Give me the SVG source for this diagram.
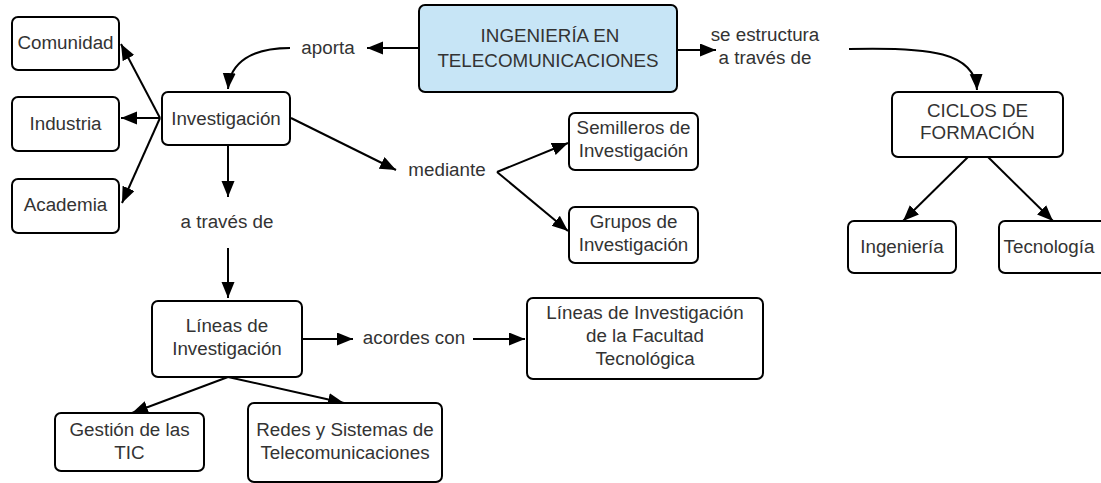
<svg xmlns="http://www.w3.org/2000/svg" width="1101" height="483" viewBox="0 0 1101 483">
<style>
.box{fill:#fff;stroke:#000;stroke-width:2}
.main{fill:#c7e5f6;stroke:#000;stroke-width:2}
text{font-family:"Liberation Sans",Arial,sans-serif;font-size:18.8px;fill:#333;text-anchor:middle}
.c{fill:none;stroke:#000;stroke-width:2}
</style>
<defs>
<marker id="ah" markerUnits="userSpaceOnUse" markerWidth="18" markerHeight="14" refX="16" refY="6.5" orient="auto" viewBox="0 0 18 14">
<path d="M0,0 L16,6.5 L0,13 z" fill="#000"/>
</marker>
</defs>
<rect width="1101" height="483" fill="#fff"/>
<g id="connectors">
<line class="c" x1="418" y1="48" x2="367" y2="48" marker-end="url(#ah)"/>
<path class="c" d="M290,48 C252,48 230,62 228,89" marker-end="url(#ah)"/>
<line class="c" x1="677" y1="50" x2="716" y2="50" marker-end="url(#ah)"/>
<path class="c" d="M849,49 C930,47 975,52 977,90" marker-end="url(#ah)"/>
<line class="c" x1="160" y1="118" x2="121" y2="44" marker-end="url(#ah)"/>
<line class="c" x1="160" y1="118" x2="121" y2="118" marker-end="url(#ah)"/>
<line class="c" x1="160" y1="118" x2="122" y2="203" marker-end="url(#ah)"/>
<line class="c" x1="228" y1="146" x2="228" y2="197" marker-end="url(#ah)"/>
<line class="c" x1="228" y1="248" x2="228" y2="298" marker-end="url(#ah)"/>
<line class="c" x1="291" y1="118" x2="396" y2="170" marker-end="url(#ah)"/>
<line class="c" x1="497" y1="172" x2="568" y2="143" marker-end="url(#ah)"/>
<line class="c" x1="497" y1="172" x2="568" y2="231" marker-end="url(#ah)"/>
<line class="c" x1="302" y1="339" x2="353" y2="339" marker-end="url(#ah)"/>
<line class="c" x1="473" y1="339" x2="525" y2="339" marker-end="url(#ah)"/>
<line class="c" x1="228" y1="377" x2="132" y2="413" marker-end="url(#ah)"/>
<line class="c" x1="228" y1="377" x2="344" y2="403" marker-end="url(#ah)"/>
<line class="c" x1="968" y1="157" x2="903" y2="221" marker-end="url(#ah)"/>
<line class="c" x1="988" y1="157" x2="1053" y2="221" marker-end="url(#ah)"/>
</g>
<g id="labels">
<text x="328" y="54">aporta</text>
<text x="765" y="41">se estructura</text>
<text x="765" y="64">a través de</text>
<text x="447" y="176">mediante</text>
<text x="227" y="228">a través de</text>
<text x="414" y="344">acordes con</text>
</g>
<g id="n-main"><rect class="main" x="419" y="5" width="258" height="87" rx="6"/><text x="550" y="42">INGENIERÍA EN</text><text x="548" y="67">TELECOMUNICACIONES</text></g>
<g id="n-comunidad"><rect class="box" x="12" y="17" width="107" height="53" rx="6"/><text x="65.5" y="49">Comunidad</text></g>
<g id="n-industria"><rect class="box" x="12" y="97" width="107" height="54" rx="6"/><text x="65.5" y="130">Industria</text></g>
<g id="n-academia"><rect class="box" x="12" y="179" width="107" height="54" rx="6"/><text x="65.5" y="211">Academia</text></g>
<g id="n-investigacion"><rect class="box" x="162" y="92" width="128" height="53" rx="6"/><text x="226" y="125">Investigación</text></g>
<g id="n-semilleros"><rect class="box" x="569" y="113" width="129" height="57" rx="6"/><text x="633.5" y="134">Semilleros de</text><text x="633.5" y="157">Investigación</text></g>
<g id="n-grupos"><rect class="box" x="569" y="207" width="129" height="56" rx="6"/><text x="633.5" y="228">Grupos de</text><text x="633.5" y="251">Investigación</text></g>
<g id="n-ciclos"><rect class="box" x="892" y="92" width="171" height="65" rx="6"/><text x="977.5" y="117">CICLOS DE</text><text x="977.5" y="139">FORMACIÓN</text></g>
<g id="n-ingenieria"><rect class="box" x="848" y="221" width="108" height="52" rx="6"/><text x="902" y="253">Ingeniería</text></g>
<g id="n-tecnologia"><rect class="box" x="999" y="221" width="108" height="52" rx="6"/><text x="1049" y="253">Tecnología</text></g>
<g id="n-lineas"><rect class="box" x="152" y="301" width="150" height="76" rx="6"/><text x="227" y="332">Líneas de</text><text x="227" y="355">Investigación</text></g>
<g id="n-facultad"><rect class="box" x="527" y="298" width="236" height="81" rx="6"/><text x="645" y="319">Líneas de Investigación</text><text x="645" y="342">de la Facultad</text><text x="645" y="365">Tecnológica</text></g>
<g id="n-gestion"><rect class="box" x="55" y="413" width="149" height="58" rx="6"/><text x="129.5" y="436">Gestión de las</text><text x="129.5" y="459">TIC</text></g>
<g id="n-redes"><rect class="box" x="248" y="403" width="194" height="79" rx="6"/><text x="345" y="436">Redes y Sistemas de</text><text x="345" y="459">Telecomunicaciones</text></g>
</svg>
